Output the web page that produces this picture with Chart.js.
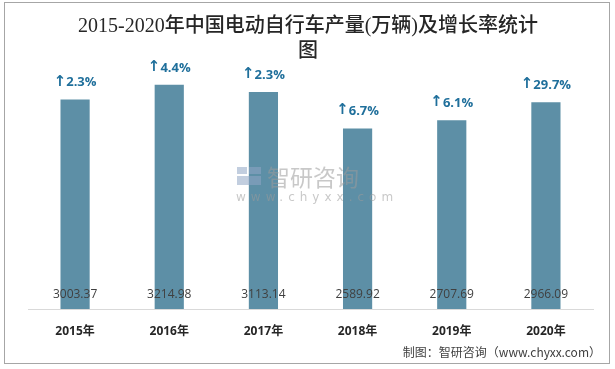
<!DOCTYPE html>
<html>
<head>
<meta charset="utf-8">
<script src="https://cdn.jsdelivr.net/npm/chart.js@4/dist/chart.umd.min.js"></script>
<style>
    html, body { margin: 0; padding: 0; background: #fff; }
    #wrap { width: 615px; height: 369px; position: relative; }
</style>
</head>
<body>
<div id="wrap"><canvas id="c" width="615" height="369"></canvas></div>
<script>
const years = ['2015年', '2016年', '2017年', '2018年', '2019年', '2020年'];
const output = [3003.37, 3214.98, 3113.14, 2589.92, 2707.69, 2966.09];
const growth = ['2.3%', '4.4%', '2.3%', '6.7%', '6.1%', '29.7%'];
const titleLines = ['2015-2020年中国电动自行车产量(万辆)及增长率统计', '图'];
const sourceText = '制图：智研咨询（www.chyxx.com）';

// frame, title, source and watermark
const decor = {
    id: 'decor',
    beforeDraw(chart) {
        const ctx = chart.ctx;
        ctx.save();
        ctx.fillStyle = '#fff';
        ctx.fillRect(0, 0, chart.width, chart.height);
        ctx.strokeStyle = '#a6a6a6';
        ctx.lineWidth = 1;
        ctx.strokeRect(4.5, 2.5, 605, 361);
        ctx.fillStyle = '#262626';
        ctx.textAlign = 'center';
        ctx.textBaseline = 'middle';
        ctx.font = '500 20px "Liberation Serif", "Noto Sans CJK SC", serif';
        ctx.fillText(titleLines[0], 308, 27);
        ctx.fillText(titleLines[1], 308, 52);
        ctx.font = '12px "Noto Sans CJK SC", sans-serif';
        ctx.fillStyle = '#404040';
        ctx.textAlign = 'right';
        ctx.fillText(sourceText, 601, 352);
        ctx.restore();
    },
    afterDatasetsDraw(chart) {
        const ctx = chart.ctx;
        const meta = chart.getDatasetMeta(0);
        ctx.save();
        // watermark
        ctx.globalAlpha = 0.55;
        ctx.fillStyle = '#8fa6c4';
        ctx.fillRect(237, 167, 10, 7);
        ctx.fillRect(249, 167, 12, 7);
        ctx.fillRect(237, 176, 24, 9);
        ctx.fillStyle = '#9a9a9a';
        ctx.textAlign = 'left';
        ctx.textBaseline = 'middle';
        ctx.font = '23px "Noto Sans CJK SC", sans-serif';
        ctx.fillText('智研咨询', 267, 177);
        ctx.font = '12px "DejaVu Sans", sans-serif';
        ctx.letterSpacing = '5px';
        ctx.fillText('www.chyxx.com', 236, 198);
        ctx.letterSpacing = '0px';
        ctx.globalAlpha = 1;
        // value labels and growth labels
        const y = chart.scales.y;
        meta.data.forEach((bar, i) => {
            ctx.textAlign = 'center';
            ctx.font = '12px "Open Sans", sans-serif';
            ctx.fillStyle = '#404040';
            ctx.fillText(output[i].toFixed(2), bar.x, y.getPixelForValue(0) - 14);
            ctx.fillStyle = '#1f6f9b';
            const arrowFont = 'bold 15px "DejaVu Sans", sans-serif';
            const pctFont = 'bold 13px "Open Sans", sans-serif';
            ctx.font = arrowFont;
            const aw = ctx.measureText('↑').width;
            ctx.font = pctFont;
            const pw = ctx.measureText(growth[i]).width;
            const x0 = bar.x - (aw + pw) / 2;
            ctx.textAlign = 'left';
            ctx.font = arrowFont;
            ctx.fillText('↑', x0, bar.y - 18);
            ctx.font = pctFont;
            ctx.fillText(growth[i], x0 + aw, bar.y - 17);
        });
        ctx.restore();
    },
};

new Chart(document.getElementById('c'), {
    type: 'bar',
    data: {
        labels: years,
        datasets: [{
            data: output,
            backgroundColor: '#5d8fa6',
            borderWidth: 0,
            barPercentage: 0.31,
            categoryPercentage: 1,
        }],
    },
    options: {
        responsive: false, animation: false,
        layout: { padding: { top: 65, left: 28, right: 22, bottom: 0 } },
        plugins: { legend: { display: false }, title: { display: false }, tooltip: { enabled: false } },
        scales: {
            y: { display: false, min: 0, max: 3500 },
            x: {
                grid: { display: false, drawTicks: false },
                border: { display: true, color: '#d9d9d9', width: 1 },
                ticks: { padding: 15, color: '#262626', font: { family: '"Open Sans", "Noto Sans CJK SC", sans-serif', size: 12, weight: 'bold' } },
                afterFit: (s) => { s.height = 60; },
            },
        },
    },
    plugins: [decor],
});
</script>
</body>
</html>
